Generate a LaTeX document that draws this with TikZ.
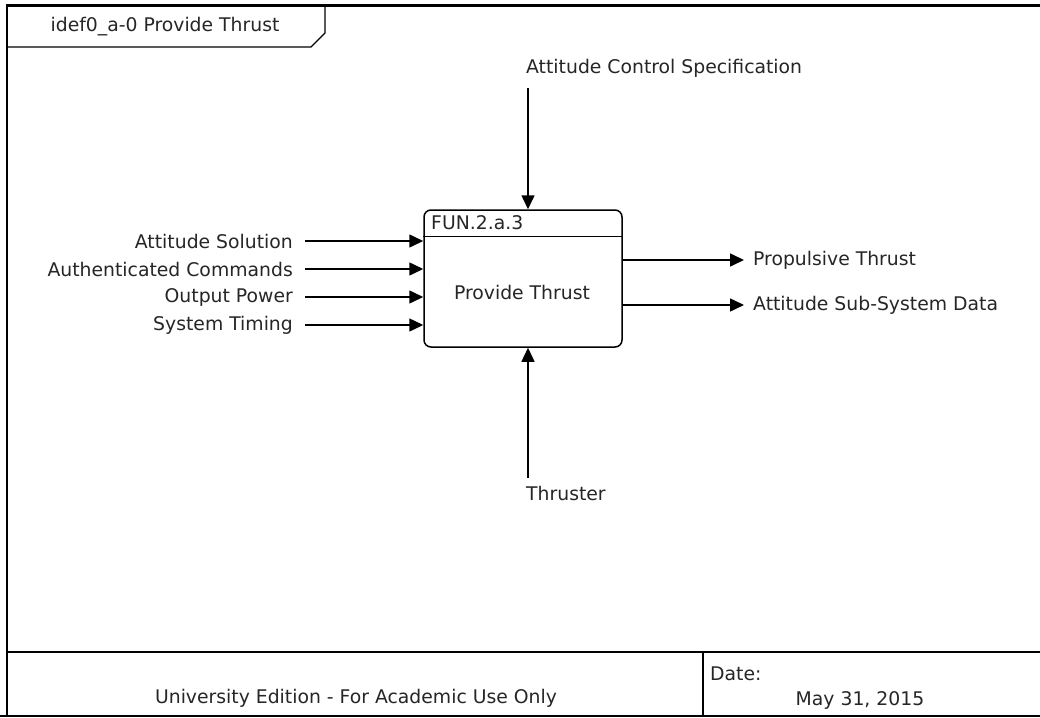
\documentclass[tikz,border=0pt]{standalone}
\usepackage{fontspec}
\setmainfont{DejaVu Sans}
\usetikzlibrary{arrows.meta}
\begin{document}
\begin{tikzpicture}[x=1pt,y=-1pt,
  lbl/.style={inner sep=0pt, font=\fontsize{18.8}{20}\selectfont, text=black!85},
  flow/.style={line width=1.5pt, -{Triangle[length=14pt,width=13pt]}},
  frame/.style={line width=2.6pt}]
\useasboundingbox (0,0) rectangle (1040,717);
\fill[white] (0,0) rectangle (1040,717);
% frame
\draw[frame] (1040,5.5) -- (7,5.5) -- (7,716);
\draw[frame] (7,652) -- (1040,652);
\draw[line width=1.4pt] (703,652) -- (703,717);
\draw[line width=1.2pt] (0,716) -- (1040,716);
% title tab
\draw[line width=1.2pt] (7,47) -- (311,47) -- (325,33) -- (325,5.5);
\node[lbl] (title) at (165,27) {idef0\_a-0 Provide Thrust};
% function box
\node[draw, line width=1.5pt, rounded corners=7pt, minimum width=198pt, minimum height=137pt, inner sep=0pt] (box) at (523,278.5) {};
\draw[line width=1.5pt] ([yshift=-27pt]box.north west) -- ([yshift=-27pt]box.north east);
\node[lbl, anchor=west] (fid) at (431,223) {FUN.2.a.3};
\node[lbl] (fname) at (522,292) {Provide Thrust};
% inputs
\node[lbl, anchor=east] (in1) at (293,241) {Attitude Solution};
\node[lbl, anchor=east] (in2) at (293,269) {Authenticated Commands};
\node[lbl, anchor=east] (in3) at (293,297) {Output Power};
\node[lbl, anchor=east] (in4) at (293,325) {System Timing};
\foreach \n in {in1,in2,in3,in4}
  \draw[flow] ([xshift=12pt]\n.east) -- (box.west |- \n.east);
% control
\node[lbl, anchor=west] (ctl) at (526,68) {Attitude Control Specification};
\coordinate (c1) at (528,88);
\draw[flow] (c1) -- (c1 |- box.north);
% mechanism
\node[lbl, anchor=west] (mech) at (526,493) {Thruster};
\coordinate (m1) at (528,478);
\draw[flow] (m1) -- (m1 |- box.south);
% outputs
\node[lbl, anchor=west] (out1) at (753,260) {Propulsive Thrust};
\node[lbl, anchor=west] (out2) at (753,305) {Attitude Sub-System Data};
\draw[flow] (box.east |- out1.west) -- ([xshift=-9pt]out1.west);
\draw[flow] (box.east |- out2.west) -- ([xshift=-9pt]out2.west);
% footer
\node[lbl] (edition) at (356,698) {University Edition - For Academic Use Only};
\node[lbl, anchor=west] (datel) at (710,674) {Date:};
\node[lbl] (date) at (860,700) {May 31, 2015};
\end{tikzpicture}
\end{document}
